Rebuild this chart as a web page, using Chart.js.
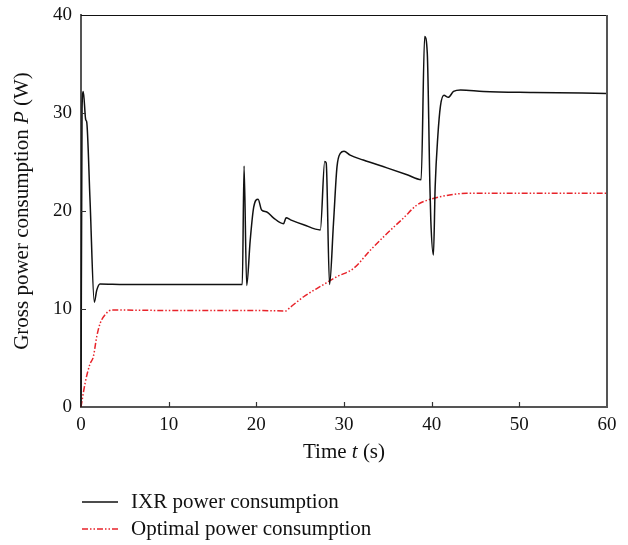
<!DOCTYPE html>
<html>
<head>
<meta charset="utf-8">
<script src="https://cdn.jsdelivr.net/npm/chart.js@4.4.1/dist/chart.umd.min.js"></script>
<style>
    body { margin: 0; background: #fff; }
    #wrap { width: 628px; height: 545px; position: relative; }
</style>
</head>
<body>
<div id="wrap"><canvas id="power-chart"></canvas></div>
<script>
// IXR power consumption (black, solid)
const tIXR = [0, 0.12, 0.26, 0.54, 0.65, 1.03, 1.52, 1.79, 2.17, 5, 10, 15, 18.4, 18.6, 18.9, 19.3, 19.7, 20.2, 20.6, 21.2, 21.95, 23.1, 23.4, 23.9, 25.4, 27.3, 27.8, 27.97, 28.35, 28.8, 29.2, 29.6, 30.0, 30.7, 32.2, 34.9, 37.2, 38.8, 39.2, 39.5, 39.8, 39.9, 40.2, 40.4, 40.7, 41.0, 41.4, 41.9, 42.5, 43.3, 45.9, 51.6, 60];
const pIXR = [0, 30.5, 32.2, 29.3, 29.1, 21.1, 10.7, 11.9, 12.55, 12.5, 12.5, 12.5, 12.5, 24.6, 12.4, 17.0, 20.4, 21.2, 20.1, 19.9, 19.3, 18.7, 19.3, 19.1, 18.6, 18.07, 25.05, 24.9, 12.5, 18.75, 24.5, 25.9, 26.1, 25.7, 25.2, 24.4, 23.7, 23.2, 37.8, 36.1, 22.5, 19.1, 15.5, 22.5, 27.6, 30.7, 31.8, 31.6, 32.2, 32.35, 32.2, 32.1, 32.0];

// Optimal power consumption (red, dash-dot-dot)
const tOpt = [0, 0.46, 1.03, 1.4, 1.8, 2.17, 2.74, 3.5, 10, 20, 23.3, 23.9, 25.4, 27.3, 29.2, 31.1, 33.0, 34.9, 36.8, 38.3, 39.5, 42.5, 44.0, 50, 60];
const pOpt = [0, 2.4, 4.4, 5.1, 7.2, 8.5, 9.4, 9.9, 9.85, 9.85, 9.8, 10.2, 11.25, 12.3, 13.3, 14.15, 16.0, 17.7, 19.3, 20.6, 21.1, 21.7, 21.8, 21.8, 21.8];

const xTicks = [0, 10, 20, 30, 40, 50, 60];
const yTicks = [0, 10, 20, 30, 40];

const seriesNames = ["IXR power consumption", "Optimal power consumption"];
const FONT = "'Liberation Serif', 'DejaVu Serif', serif";
const RED = "#e8232a";
const RED_DASH = [6, 2, 1.5, 2, 1.5, 2];

function toPoints(xs, ys) {
    return xs.map((x, i) => ({ x: x, y: ys[i] }));
}

// draws text made of parts with different styles, centred at x
function drawRich(ctx, parts, x, y, size) {
    let total = 0;
    parts.forEach(p => {
        ctx.font = (p.italic ? "italic " : "") + size + "px " + FONT;
        p.w = ctx.measureText(p.text).width;
        total += p.w;
    });
    let cx = x - total / 2;
    parts.forEach(p => {
        ctx.font = (p.italic ? "italic " : "") + size + "px " + FONT;
        ctx.fillText(p.text, cx, y);
        cx += p.w;
    });
}

const framePlugin = {
    id: "frame",
    afterDraw(chart) {
        const ctx = chart.ctx;
        const a = chart.chartArea;
        const xs = chart.scales.x;
        const ys = chart.scales.y;
        ctx.save();

        // top and right border
        ctx.strokeStyle = "#111";
        ctx.lineWidth = 1;
        ctx.beginPath();
        ctx.moveTo(a.left, a.top + 0.5);
        ctx.lineTo(a.right, a.top + 0.5);
        ctx.stroke();
        ctx.strokeStyle = "#555";
        ctx.lineWidth = 2;
        ctx.beginPath();
        ctx.moveTo(a.right, a.top);
        ctx.lineTo(a.right, a.bottom);
        ctx.stroke();

        // inward tick marks
        ctx.strokeStyle = "#333";
        ctx.lineWidth = 1.2;
        ctx.beginPath();
        xTicks.slice(1, -1).forEach(v => {
            const px = Math.round(xs.getPixelForValue(v)) + 0.5;
            ctx.moveTo(px, a.bottom);
            ctx.lineTo(px, a.bottom - 5);
        });
        yTicks.slice(1, -1).forEach(v => {
            const py = Math.round(ys.getPixelForValue(v)) + 0.5;
            ctx.moveTo(a.left, py);
            ctx.lineTo(a.left + 5, py);
        });
        ctx.stroke();

        // axis titles
        ctx.fillStyle = "#111";
        ctx.textBaseline = "alphabetic";
        ctx.textAlign = "left";
        drawRich(ctx, [{ text: "Time " }, { text: "t", italic: true }, { text: " (s)" }],
            (a.left + a.right) / 2, 458, 21);
        ctx.save();
        ctx.translate(28, (a.top + a.bottom) / 2);
        ctx.rotate(-Math.PI / 2);
        drawRich(ctx, [{ text: "Gross power consumption " }, { text: "P", italic: true }, { text: " (W)" }],
            0, 0, 21);
        ctx.restore();

        // legend
        const rows = [
            { y: 502, color: "#111", dash: [], width: 1.5 },
            { y: 529, color: RED, dash: RED_DASH, width: 1.5 }
        ];
        rows.forEach((r, i) => {
            ctx.strokeStyle = r.color;
            ctx.lineWidth = r.width;
            ctx.setLineDash(r.dash);
            ctx.beginPath();
            ctx.moveTo(82, r.y);
            ctx.lineTo(118, r.y);
            ctx.stroke();
            ctx.setLineDash([]);
            ctx.font = "21px " + FONT;
            ctx.fillStyle = "#111";
            ctx.fillText(seriesNames[i], 131, r.y + 6);
        });
        ctx.restore();
    }
};

new Chart(document.getElementById("power-chart"), {
    type: "scatter",
    data: {
        datasets: [
            {
                label: seriesNames[0],
                data: toPoints(tIXR, pIXR),
                showLine: true,
                borderColor: "#111",
                borderWidth: 1.5,
                pointRadius: 0,
                cubicInterpolationMode: "monotone",
                clip: false
            },
            {
                label: seriesNames[1],
                data: toPoints(tOpt, pOpt),
                showLine: true,
                borderColor: RED,
                borderWidth: 1.5,
                borderDash: RED_DASH,
                pointRadius: 0,
                cubicInterpolationMode: "monotone",
                clip: false
            }
        ]
    },
    options: {
        responsive: true,
        maintainAspectRatio: false,
        animation: false,
        layout: { padding: { top: 15, right: 21, left: 0, bottom: 0 } },
        plugins: {
            legend: { display: false },
            tooltip: { enabled: false }
        },
        scales: {
            x: {
                type: "linear",
                min: 0,
                max: 60,
                afterFit: s => { s.height = 138; s.paddingLeft = 0; s.paddingRight = 0; },
                afterBuildTicks: s => { s.ticks = xTicks.map(v => ({ value: v })); },
                grid: { drawOnChartArea: false, drawTicks: false },
                border: { color: "#555", width: 2 },
                ticks: { color: "#111", padding: 7, font: { family: FONT, size: 19 } }
            },
            y: {
                min: 0,
                max: 40,
                afterFit: s => { s.width = 81; s.paddingTop = 0; s.paddingBottom = 0; },
                afterBuildTicks: s => { s.ticks = yTicks.map(v => ({ value: v })); },
                grid: { drawOnChartArea: false, drawTicks: false },
                border: { color: "#555", width: 2 },
                ticks: { color: "#111", padding: 9, font: { family: FONT, size: 19 } }
            }
        }
    },
    plugins: [framePlugin]
});
</script>
</body>
</html>
